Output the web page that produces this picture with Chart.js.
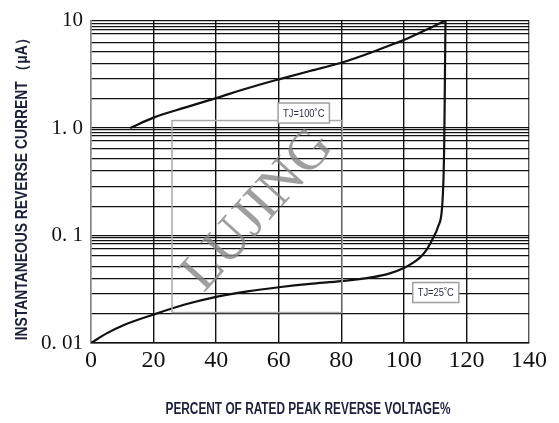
<!DOCTYPE html>
<html>
<head>
<meta charset="utf-8">
<script src="https://cdn.jsdelivr.net/npm/chart.js@4.4.1/dist/chart.umd.min.js"></script>
<style>
html,body{margin:0;padding:0;background:#fff;}
#wrap{width:559px;height:423px;}
</style>
</head>
<body>
<div id="wrap"><canvas id="c" width="559" height="423"></canvas></div>
<script>
// ---- data ----
const xTicks = [0, 20, 40, 60, 80, 100, 120, 140];
const yLabels = { 10: '10', 1: '1. 0', 0.1: '0. 1', 0.01: '0. 01' };
const yGrid = [
  0.01, 0.0187, 0.0286, 0.0393, 0.0516, 0.0645, 0.0753, 0.0837, 0.0905, 0.095,
  0.1, 0.185, 0.284, 0.40, 0.52, 0.64, 0.765, 0.842, 0.91, 0.975,
  1, 1.88, 2.88, 3.99, 5.16, 6.27, 7.56, 8.22, 8.82, 9.32, 10
];
const t100x = [12.5, 20, 30, 40, 50, 60, 70, 80, 90, 92.5, 100, 107.5, 113.3];
const t100y = [1.0, 1.25, 1.55, 1.9, 2.35, 2.84, 3.4, 4.05, 5.1, 5.45, 6.6, 8.3, 10];
const t25x = [0, 5, 10, 20, 30, 40, 50, 60, 70, 80, 90, 95, 100, 103, 105.3, 107.3, 109.1, 110.9, 112.2, 112.7, 112.9, 113.1, 113.3];
const t25y = [0.01, 0.0123, 0.0145, 0.0184, 0.0228, 0.0269, 0.0302, 0.033, 0.0355, 0.0376, 0.041, 0.044, 0.050, 0.056, 0.063, 0.074, 0.092, 0.12, 0.18, 0.36, 0.7, 2.5, 10];
const labelTexts = ['TJ=100\u02DAC', 'TJ=25\u02DAC'];
const watermarkText = 'LUJING';
const xTitle = 'PERCENT OF RATED PEAK REVERSE VOLTAGE%';
const yTitle = 'INSTANTANEOUS REVERSE CURRENT \uFF08\u03BCA\uFF09';

// ---- overlay config (positions in data units / styles) ----
const tagBoxes = [
  { text: labelTexts[0], x: 68, y: 1.38 },
  { text: labelTexts[1], x: 110.2, y: 0.0295 }
];
const wmRect = { x0: 25.9, x1: 80.3, y0: 0.0192, y1: 1.175 };
const wmCenter = { x: 53.5, y: 0.17 };
const titleStyle = { font: 'bold 16px "Liberation Sans", sans-serif', color: '#1c2138' };

const pts = (xs, ys) => xs.map((x, i) => ({ x: x, y: ys[i] }));

function condensedText(ctx, text, cx, cy, targetW, rot) {
  ctx.save();
  ctx.font = titleStyle.font;
  ctx.fillStyle = titleStyle.color;
  ctx.textAlign = 'center';
  ctx.textBaseline = 'middle';
  const w = ctx.measureText(text).width;
  ctx.translate(cx, cy);
  ctx.rotate(rot);
  ctx.scale(targetW / w, 1);
  ctx.fillText(text, 0, 0);
  ctx.restore();
}

const overlay = {
  id: 'overlay',
  afterDatasetsDraw(chart) {
    const ctx = chart.ctx, xs = chart.scales.x, ys = chart.scales.y;
    ctx.save();
    ctx.strokeStyle = '#a8a8a8';
    ctx.lineWidth = 1.5;
    const rx0 = xs.getPixelForValue(wmRect.x0), rx1 = xs.getPixelForValue(wmRect.x1);
    const ry0 = ys.getPixelForValue(wmRect.y1), ry1 = ys.getPixelForValue(wmRect.y0);
    ctx.strokeRect(rx0, ry0, rx1 - rx0, ry1 - ry0);
    ctx.translate(xs.getPixelForValue(wmCenter.x), ys.getPixelForValue(wmCenter.y));
    ctx.rotate(-48 * Math.PI / 180);
    ctx.fillStyle = 'rgba(135,135,135,0.8)';
    ctx.font = '56px "Liberation Serif", serif';
    ctx.textAlign = 'center';
    ctx.textBaseline = 'middle';
    ctx.fillText(watermarkText, 0, 0);
    ctx.restore();

    ctx.save();
    ctx.font = '11px "Liberation Sans", sans-serif';
    ctx.textAlign = 'center';
    ctx.textBaseline = 'middle';
    tagBoxes.forEach(b => {
      const cx = xs.getPixelForValue(b.x), cy = ys.getPixelForValue(b.y);
      const tw = ctx.measureText(b.text).width;
      const w = tw * 0.85 + 10, h = 20;
      ctx.fillStyle = '#fff';
      ctx.fillRect(cx - w / 2, cy - h / 2, w, h);
      ctx.strokeStyle = '#a0a0a0';
      ctx.lineWidth = 1.5;
      ctx.strokeRect(cx - w / 2, cy - h / 2, w, h);
      ctx.fillStyle = '#2a2f45';
      ctx.save();
      ctx.translate(cx, cy + 0.5);
      ctx.scale(0.85, 1);
      ctx.fillText(b.text, 0, 0);
      ctx.restore();
    });
    ctx.restore();

    const ca = chart.chartArea;
    condensedText(ctx, xTitle, (ca.left + ca.right) / 2 - 2, 410, 285, 0);
    condensedText(ctx, yTitle, 23, (ca.top + ca.bottom) / 2 + 4, 309, -Math.PI / 2);
  }
};

new Chart(document.getElementById('c'), {
  type: 'scatter',
  data: {
    datasets: [
      { data: pts(t100x, t100y), showLine: true, borderColor: '#111', borderWidth: 2.2, pointRadius: 0, cubicInterpolationMode: 'monotone', fill: false },
      { data: pts(t25x, t25y), showLine: true, borderColor: '#111', borderWidth: 2.2, pointRadius: 0, cubicInterpolationMode: 'monotone', fill: false }
    ]
  },
  options: {
    responsive: false,
    animation: false,
    events: [],
    layout: { padding: { left: 0, right: 30, top: 14, bottom: 0 } },
    plugins: { legend: { display: false }, tooltip: { enabled: false } },
    scales: {
      x: {
        type: 'linear', min: 0, max: 140,
        afterBuildTicks: s => { s.ticks = xTicks.map(v => ({ value: v })); },
        afterFit: s => { s.height = 80; },
        ticks: { autoSkip: false, maxRotation: 0, color: '#111', padding: 3,
                 font: { family: '"Liberation Serif", serif', size: 24 } },
        grid: {
          color: c => (c.tick && (c.tick.value === 0) ? '#888' : (c.tick && c.tick.value === 140 ? '#555' : '#111')),
          lineWidth: 1.4, drawTicks: false
        },
        border: { color: '#111', width: 1.6 },
        title: { display: false }
      },
      y: {
        type: 'logarithmic', min: 0.01, max: 10,
        afterBuildTicks: s => { s.ticks = yGrid.map(v => ({ value: v })); },
        afterFit: s => { s.width = 91; },
        ticks: { autoSkip: false, color: '#111', padding: 8,
                 font: { family: '"Liberation Serif", serif', size: 21 },
                 callback: v => (yLabels[v] !== undefined ? yLabels[v] : '') },
        grid: { color: '#111', lineWidth: 1.3, drawTicks: false },
        border: { color: '#888', width: 1.5 },
        title: { display: false }
      }
    }
  },
  plugins: [overlay]
});
</script>
</body>
</html>
